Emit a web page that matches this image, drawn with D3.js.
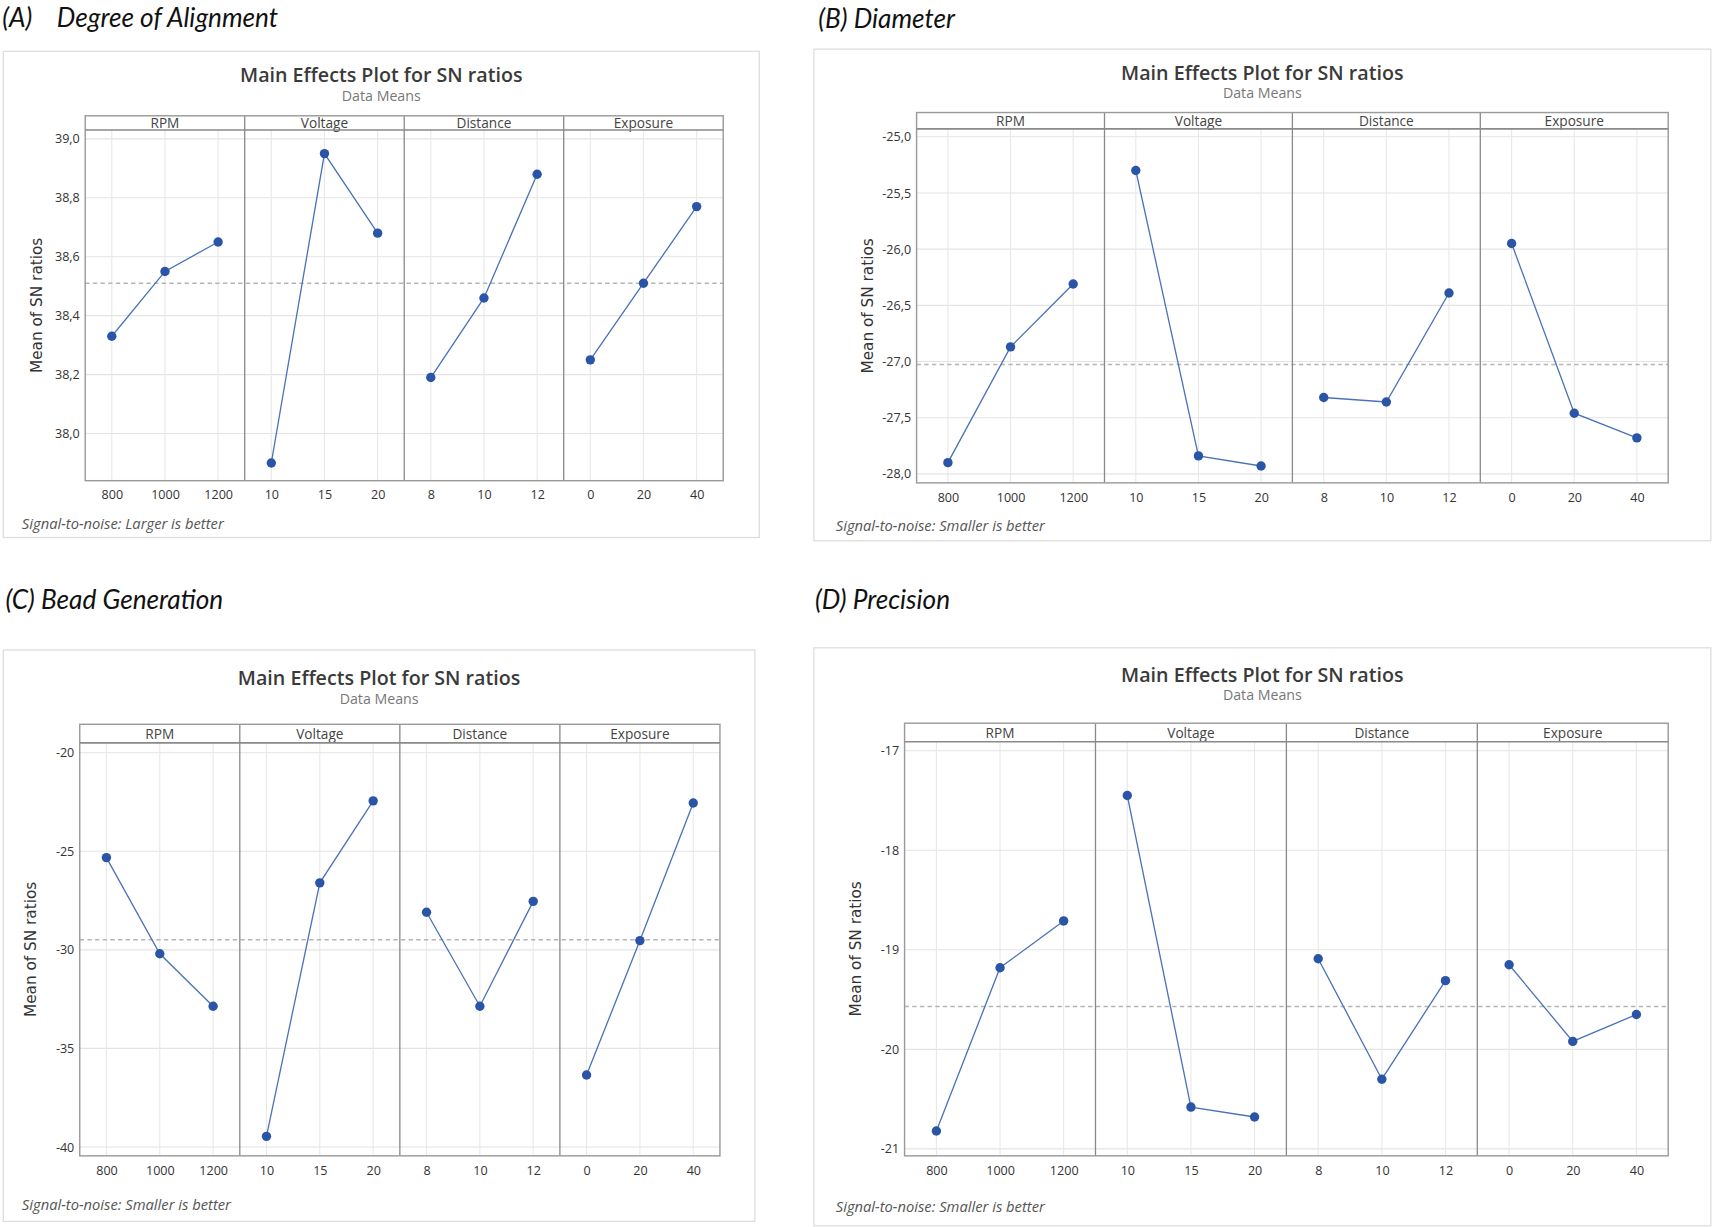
<!DOCTYPE html>
<html>
<head>
<meta charset="utf-8">
<script src="https://cdnjs.cloudflare.com/ajax/libs/d3/7.8.5/d3.min.js"></script>
<style>
  body { margin: 0; background: #fff; }
  text { font-family: "Open Sans", "Noto Sans", sans-serif; }
</style>
</head>
<body>
<script>
// factors and their levels (same for all four charts)
var factors = ["RPM", "Voltage", "Distance", "Exposure"];
var rpmLevels = ["800", "1000", "1200"];
var voltageLevels = ["10", "15", "20"];
var distanceLevels = ["8", "10", "12"];
var exposureLevels = ["0", "20", "40"];
var levels = [rpmLevels, voltageLevels, distanceLevels, exposureLevels];

// mean SN ratio per level, one row per factor
var alignmentSN = [
  [38.33, 38.55, 38.65],
  [37.90, 38.95, 38.68],
  [38.19, 38.46, 38.88],
  [38.25, 38.51, 38.77]
];
var diameterSN = [
  [-27.90, -26.87, -26.31],
  [-25.30, -27.84, -27.93],
  [-27.32, -27.36, -26.39],
  [-25.95, -27.46, -27.68]
];
var beadSN = [
  [-25.32, -30.20, -32.86],
  [-39.46, -26.60, -22.44],
  [-28.09, -32.86, -27.54],
  [-36.35, -29.53, -22.55]
];
var precisionSN = [
  [-20.82, -19.18, -18.71],
  [-17.45, -20.58, -20.68],
  [-19.09, -20.30, -19.31],
  [-19.15, -19.92, -19.65]
];

// y tick labels
var alignmentTicks = [38.0, 38.2, 38.4, 38.6, 38.8, 39.0];
var diameterTicks = [-28.0, -27.5, -27.0, -26.5, -26.0, -25.5, -25.0];
var beadTicks = [-40, -35, -30, -25, -20];
var precisionTicks = [-21, -20, -19, -18, -17];

var headings = ["(A)    Degree of Alignment", "(B) Diameter", "(C) Bead Generation", "(D) Precision"];
var footnotes = ["Signal-to-noise: Larger is better", "Signal-to-noise: Smaller is better",
  "Signal-to-noise: Smaller is better", "Signal-to-noise: Smaller is better"];

var locale = d3.formatLocale({decimal: ",", thousands: ".", grouping: [3], currency: ["", ""], minus: "-"});

// layout (in 1568-wide units, scaled up to the page)
var charts = [
  {data: alignmentSN, ticks: alignmentTicks, fmt: locale.format(".1f"), ydom: [37.84, 39.03],
   head: [2, 25], box: [3, 47, 695, 492], left: 78, right: 662, stripTop: 106, stripBottom: 119, bottom: 440,
   titleY: 75, foot: [20, 484], heading: headings[0], footnote: footnotes[0]},
  {data: diameterSN, ticks: diameterTicks, fmt: locale.format(".1f"), ydom: [-28.08, -24.93],
   head: [749, 26], box: [745, 45, 1566, 495], left: 839, right: 1527, stripTop: 103, stripBottom: 118, bottom: 442,
   titleY: 73, foot: [765, 486], heading: headings[1], footnote: footnotes[1]},
  {data: beadSN, ticks: beadTicks, fmt: locale.format("d"), ydom: [-40.45, -19.5],
   head: [5, 557], box: [3, 595, 691, 1118], left: 73, right: 659, stripTop: 663, stripBottom: 680, bottom: 1058,
   titleY: 627, foot: [20, 1108], heading: headings[2], footnote: footnotes[2]},
  {data: precisionSN, ticks: precisionTicks, fmt: locale.format("d"), ydom: [-21.07, -16.91],
   head: [746, 557], box: [745, 593, 1566, 1122], left: 828, right: 1527, stripTop: 662, stripBottom: 679, bottom: 1058,
   titleY: 624, foot: [765, 1109], heading: headings[3], footnote: footnotes[3]}
];

var k = 1713 / 1568;
var svg = d3.select("body").append("svg").attr("width", 1713).attr("height", 1227);
var root = svg.append("g").attr("transform", "scale(" + k + ")");

charts.forEach(function(c) {
  var g = root.append("g");
  var cx = (c.box[0] + c.box[2]) / 2;
  var panelW = (c.right - c.left) / factors.length;
  var y = d3.scaleLinear().domain(c.ydom).range([c.bottom, c.stripBottom]);
  var grand = d3.mean(d3.merge(c.data));

  g.append("text").attr("x", c.head[0]).attr("y", c.head[1])
    .style("font-family", "Lato, 'Open Sans', sans-serif").style("font-style", "italic")
    .style("font-size", "24px").attr("fill", "#111").attr("xml:space", "preserve")
    .text(c.heading);

  g.append("rect").attr("x", c.box[0]).attr("y", c.box[1])
    .attr("width", c.box[2] - c.box[0]).attr("height", c.box[3] - c.box[1])
    .attr("fill", "#fff").attr("stroke", "#dedede").attr("stroke-width", 1.2);

  g.append("text").attr("x", cx).attr("y", c.titleY).attr("text-anchor", "middle")
    .style("font-size", "18px").style("font-weight", 600).attr("fill", "#3a3a3a")
    .text("Main Effects Plot for SN ratios");
  g.append("text").attr("x", cx).attr("y", c.titleY + 17).attr("text-anchor", "middle")
    .style("font-size", "13px").attr("fill", "#777").text("Data Means");

  // horizontal grid
  g.append("g").selectAll("line").data(c.ticks).enter().append("line")
    .attr("x1", c.left).attr("x2", c.right)
    .attr("y1", function(d) { return y(d); }).attr("y2", function(d) { return y(d); })
    .attr("stroke", "#e4e4e4").attr("stroke-width", 1);

  var xs = factors.map(function(f, i) {
    var x0 = c.left + i * panelW;
    return d3.scalePoint().domain(levels[i]).range([x0, x0 + panelW]).padding(0.5);
  });

  // vertical grid
  factors.forEach(function(f, i) {
    g.append("g").selectAll("line").data(levels[i]).enter().append("line")
      .attr("x1", function(d) { return xs[i](d); }).attr("x2", function(d) { return xs[i](d); })
      .attr("y1", c.stripBottom).attr("y2", c.bottom)
      .attr("stroke", "#e8e8e8").attr("stroke-width", 1);
  });

  // grand mean reference line
  g.append("line").attr("x1", c.left).attr("x2", c.right)
    .attr("y1", y(grand)).attr("y2", y(grand))
    .attr("stroke", "#b5b5b5").attr("stroke-width", 1.4).attr("stroke-dasharray", "4,3");

  // effect lines and points
  factors.forEach(function(f, i) {
    var pts = c.data[i].map(function(v, j) { return {level: levels[i][j], value: v}; });
    var line = d3.line().x(function(d) { return xs[i](d.level); }).y(function(d) { return y(d.value); });
    g.append("path").datum(pts).attr("d", line)
      .attr("fill", "none").attr("stroke", "#4a72b8").attr("stroke-width", 1.2);
    g.append("g").selectAll("circle").data(pts).enter().append("circle")
      .attr("cx", function(d) { return xs[i](d.level); }).attr("cy", function(d) { return y(d.value); })
      .attr("r", 4.3).attr("fill", "#2a55a6");

    var ax = d3.axisBottom(xs[i]).tickSize(0).tickPadding(9);
    var ag = g.append("g").attr("transform", "translate(0," + c.bottom + ")").call(ax);
    ag.select(".domain").remove();
    ag.selectAll("text").style("font-size", "11.5px").attr("fill", "#333")
      .style("font-family", "'Open Sans', sans-serif");

    g.append("text").attr("x", c.left + (i + 0.5) * panelW).attr("y", (c.stripTop + c.stripBottom) / 2 + 5)
      .attr("text-anchor", "middle").style("font-size", "12.5px").attr("fill", "#444").text(f);

    if (i > 0) {
      g.append("line").attr("x1", c.left + i * panelW).attr("x2", c.left + i * panelW)
        .attr("y1", c.stripTop).attr("y2", c.bottom)
        .attr("stroke", "#8a8a8a").attr("stroke-width", 1.2);
    }
  });

  // plot frame and strip separator
  g.append("rect").attr("x", c.left).attr("y", c.stripTop)
    .attr("width", c.right - c.left).attr("height", c.bottom - c.stripTop)
    .attr("fill", "none").attr("stroke", "#9a9a9a").attr("stroke-width", 1.3);
  g.append("line").attr("x1", c.left).attr("x2", c.right)
    .attr("y1", c.stripBottom).attr("y2", c.stripBottom)
    .attr("stroke", "#8a8a8a").attr("stroke-width", 1.5);

  var yAxis = d3.axisLeft(y).tickValues(c.ticks).tickFormat(c.fmt).tickSize(0).tickPadding(5);
  var yg = g.append("g").attr("transform", "translate(" + c.left + ",0)").call(yAxis);
  yg.select(".domain").remove();
  yg.selectAll("text").style("font-size", "11.5px").attr("fill", "#333")
    .style("font-family", "'Open Sans', sans-serif");

  g.append("text")
    .attr("transform", "translate(" + (c.left - 40) + "," + ((c.stripBottom + c.bottom) / 2) + ") rotate(-90)")
    .attr("text-anchor", "middle").style("font-size", "14px").attr("fill", "#333")
    .style("font-family", "'DejaVu Sans', sans-serif")
    .text("Mean of SN ratios");

  g.append("text").attr("x", c.foot[0]).attr("y", c.foot[1])
    .style("font-style", "italic").style("font-size", "13.5px").attr("fill", "#555")
    .text(c.footnote);
});
</script>
</body>
</html>
